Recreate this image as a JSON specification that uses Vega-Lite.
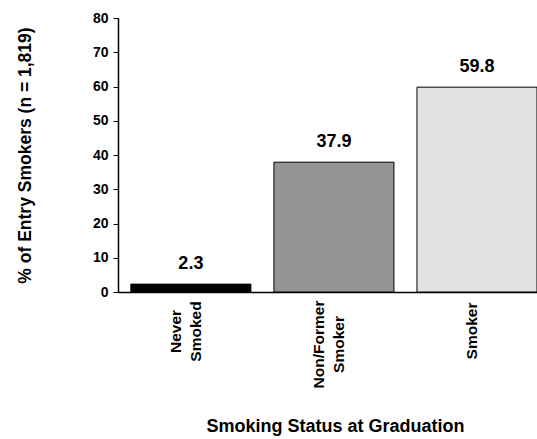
{
  "$schema": "https://vega.github.io/schema/vega-lite/v6.json",
  "width": 419,
  "height": 274,
  "autosize": {"type": "none"},
  "padding": {"left": 118, "top": 18, "right": 0, "bottom": 147},
  "background": "white",
  "config": {
    "view": {"stroke": null},
    "font": "Liberation Sans"
  },
  "data": {
    "values": [
      {"status": "Never Smoked", "pct": 2.3},
      {"status": "Non/Former Smoker", "pct": 37.9},
      {"status": "Smoker", "pct": 59.8}
    ]
  },
  "encoding": {
    "x": {
      "field": "status",
      "type": "nominal",
      "sort": null,
      "scale": {"paddingInner": 0.161, "paddingOuter": 0.045, "align": 1},
      "axis": {
        "title": "Smoking Status at Graduation",
        "titleFont": "Liberation Sans",
        "titleFontSize": 18,
        "titleFontWeight": "bold",
        "titleColor": "black",
        "titlePadding": 30,
        "titleX": 217,
        "labelAngle": -90,
        "labelAlign": {"condition": {"test": "datum.value == 'Smoker'", "value": "right"}, "value": "center"},
        "labelPadding": {"condition": [
          {"test": "datum.value == 'Never Smoked'", "value": 39},
          {"test": "datum.value == 'Non/Former Smoker'", "value": 52}
        ], "value": 10},
        "labelOffset": {"condition": {"test": "datum.value == 'Smoker'", "value": -5}, "value": -15},
        "labelBaseline": "middle",
        "labelFont": "Liberation Sans",
        "labelFontSize": 15.5,
        "labelFontWeight": "bold",
        "labelColor": "black",
        "labelExpr": "datum.value == 'Never Smoked' ? ['Never','Smoked'] : datum.value == 'Non/Former Smoker' ? ['Non/Former','Smoker'] : datum.value",
        "labelLineHeight": 20,
        "ticks": false,
        "domainColor": "black",
        "domainWidth": 1.5,
        "grid": false
      }
    },
    "y": {
      "field": "pct",
      "type": "quantitative",
      "scale": {"domain": [0, 80], "nice": false},
      "axis": {
        "title": "% of Entry Smokers (n = 1,819)",
        "titleFont": "Liberation Sans",
        "titleFontSize": 17.5,
        "titleFontWeight": "bold",
        "titleColor": "black",
        "titlePadding": 58,
        "values": [0, 10, 20, 30, 40, 50, 60, 70, 80],
        "labelFont": "Liberation Sans",
        "labelFontSize": 14,
        "labelFontWeight": "bold",
        "labelColor": "black",
        "labelPadding": 5,
        "tickSize": 5,
        "tickColor": "black",
        "domainColor": "black",
        "domainWidth": 1.5,
        "grid": false
      }
    }
  },
  "layer": [
    {
      "mark": {"type": "bar", "stroke": "black", "strokeWidth": 1},
      "encoding": {
        "color": {
          "field": "status",
          "type": "nominal",
          "scale": {
            "domain": ["Never Smoked", "Non/Former Smoker", "Smoker"],
            "range": ["#000000", "#959595", "#e2e2e2"]
          },
          "legend": null
        }
      }
    },
    {
      "mark": {
        "type": "text",
        "dy": -15,
        "baseline": "alphabetic",
        "font": "Liberation Sans",
        "fontSize": 18,
        "fontWeight": "bold",
        "color": "black"
      },
      "encoding": {
        "text": {"field": "pct", "type": "quantitative", "format": ".1f"}
      }
    }
  ]
}
